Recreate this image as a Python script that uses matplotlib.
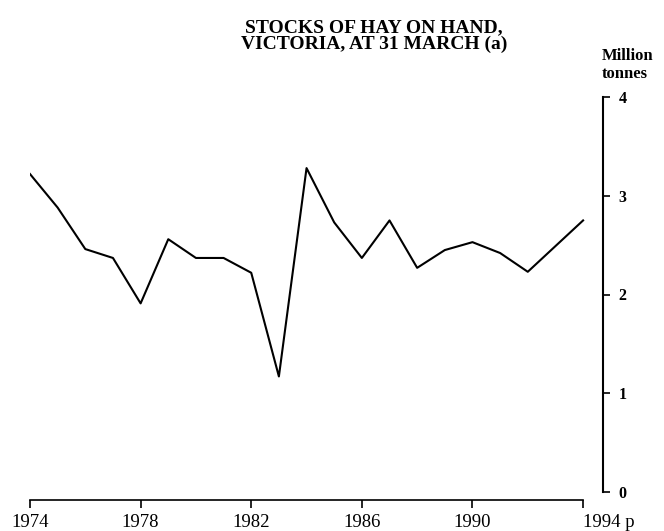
import matplotlib
matplotlib.use("Agg")
import matplotlib.pyplot as plt

# hay stocks at 31 March, million tonnes
years = list(range(1974, 1995))
stocks = [3.22, 2.88, 2.46, 2.37, 1.91, 2.56, 2.37, 2.37, 2.22, 1.17, 3.28,
          2.73, 2.37, 2.75, 2.27, 2.45, 2.53, 2.42, 2.23, 2.49, 2.75]

xticks = [1974, 1978, 1982, 1986, 1990, 1994]
xlabels = ["1974", "1978", "1982", "1986", "1990", "1994 p"]
yticks = [0, 1, 2, 3, 4]

plt.rcParams["font.family"] = ["Liberation Serif", "DejaVu Serif"]

fig = plt.figure(figsize=(6.64, 5.31), dpi=100)
ax = fig.add_axes([30 / 664, 1 - 492 / 531, 573 / 664, 395 / 531])

ax.plot(years, stocks, color="black", linewidth=1.5)

ax.set_xlim(1974, 1994.72)
ax.set_ylim(0, 4)

# axes: value scale on the right, year scale below
ax.spines["top"].set_visible(False)
ax.spines["left"].set_visible(False)
ax.spines["right"].set_linewidth(1.5)
ax.spines["bottom"].set_linewidth(1.2)
ax.spines["bottom"].set_position(("outward", 6))
ax.spines["bottom"].set_bounds(1974, 1994)

ax.yaxis.tick_right()
ax.set_yticks(yticks)
ax.set_yticklabels([str(v) for v in yticks], fontsize=11.5, fontweight="bold")
ax.tick_params(axis="y", direction="out", length=5, width=1.2, pad=6)

ax.set_xticks(xticks)
ax.set_xticklabels(xlabels, fontsize=13.5)
ax.tick_params(axis="x", direction="out", length=6, width=1.2, pad=4)
# the provisional last year sits to the right of its tick
last = ax.get_xticklabels()[-1]
last.set_horizontalalignment("left")

fig.text(374 / 664, 1 - 36 / 531, "STOCKS OF HAY ON HAND,\nVICTORIA, AT 31 MARCH (a)",
         ha="center", va="center", fontsize=14, fontweight="bold",
         linespacing=0.95)
fig.text(602 / 664, 1 - 65 / 531, "Million\ntonnes", ha="left", va="center",
         fontsize=12, fontweight="bold", linespacing=1.2)

fig.savefig("out.png", dpi=100)
